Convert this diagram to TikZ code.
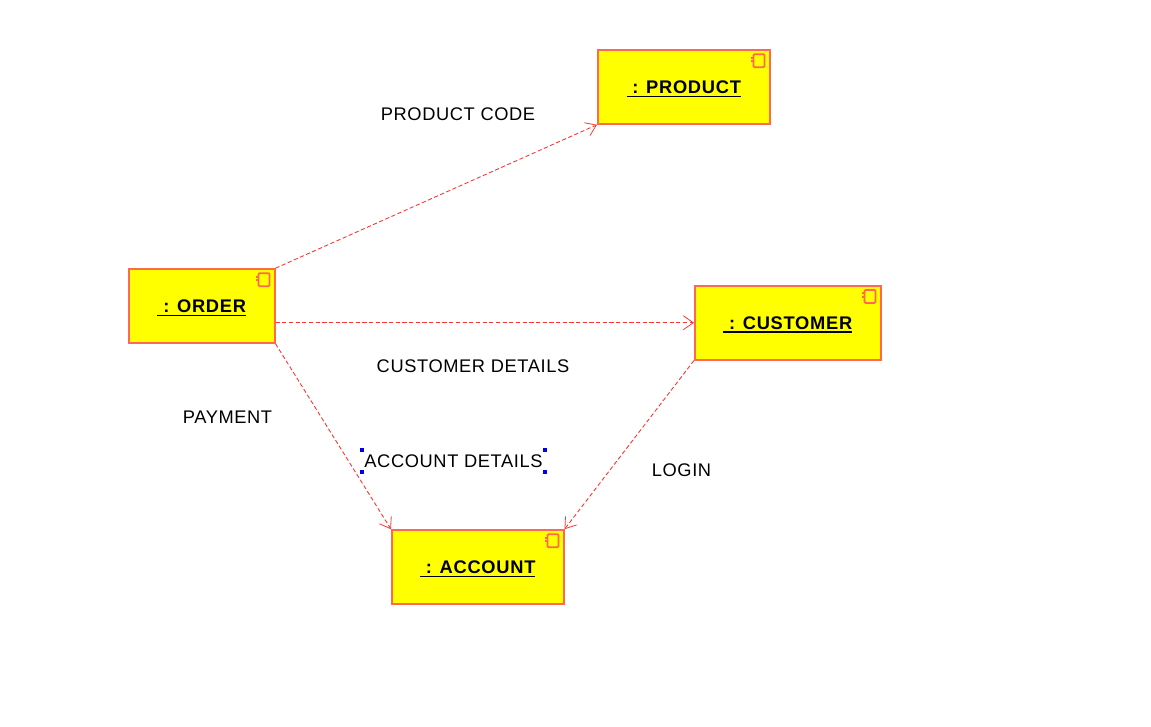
\documentclass[tikz,border=0pt]{standalone}
\usepackage{fontspec}
\setmainfont{Liberation Sans}
\usetikzlibrary{arrows.meta, positioning, calc}
\usepackage{xcolor}
\definecolor{boxline}{RGB}{255,105,80}
\definecolor{boxfill}{RGB}{255,255,0}
\definecolor{flowline}{RGB}{255,50,50}
\definecolor{handleblue}{RGB}{0,0,230}
\newcommand{\complabel}[1]{\setbox0\hbox{\ : #1}\rlap{\copy0}\rule[-0.07cm]{\wd0}{0.75pt}}

\begin{document}
\begin{tikzpicture}[
    component/.style={draw=boxline, line width=0.9pt, fill=boxfill, minimum height=1.48cm, text height=0.31cm, text depth=0.05cm, font=\fontsize{10.4}{12}\selectfont\bfseries\addfontfeatures{LetterSpace=4}, inner sep=0pt},
    flow/.style={-{Straight Barb[length=2mm, width=2.8mm, line width=0.45pt]}, dash pattern=on 2.4pt off 1.4pt, draw=flowline, line width=0.5pt},
    msg/.style={font=\fontsize{10.4}{12}\selectfont\addfontfeatures{LetterSpace=3.3}, inner sep=0pt},
    handle/.style={fill=handleblue, inner sep=0pt, minimum size=0.08cm},
    compicon/.pic={
        \draw[boxline, line width=1pt, rounded corners=0.6pt] (-0.34,-0.10) rectangle (-0.12,-0.36);
        \draw[boxline, line width=1.1pt] (-0.39,-0.17) -- (-0.34,-0.17) (-0.39,-0.24) -- (-0.34,-0.24);
    },
]
\useasboundingbox (0,0) rectangle (23.02,14.54);

% components
\node[component, minimum width=3.44cm] (product) at (13.675, 12.80) {\complabel{PRODUCT}};
\node[component, minimum width=2.92cm] (order) at (4.035, 8.42) {\complabel{ORDER}};
\node[component, minimum width=3.72cm] (customer) at (15.755, 8.085) {\complabel{CUSTOMER}};
\node[component, minimum width=3.44cm] (account) at (9.555, 3.20) {\complabel{ACCOUNT}};

\pic at (product.north east) {compicon};
\pic at (order.north east) {compicon};
\pic at (customer.north east) {compicon};
\pic at (account.north east) {compicon};

% messages
\draw[flow] (order.north east) -- (product.south west);
\draw[flow] (customer.west -| order.east) -- (customer.west);
\draw[flow] (order.south east) -- (account.north west);
\draw[flow] (customer.south west) -- (account.north east);

% labels
\node[msg] (productcode) at (9.16, 12.26) {PRODUCT CODE};
\node[msg] (customerdetails) at (9.46, 7.22) {CUSTOMER DETAILS};
\node[msg] (payment) at (4.55, 6.20) {PAYMENT};
\node[msg, minimum width=3.66cm, minimum height=0.42cm] (accountdetails) at (9.07, 5.32) {ACCOUNT DETAILS};
\node[msg] (login) at (13.63, 5.13) {LOGIN};

% selection handles
\node[handle] (h1) at (accountdetails.north west) {};
\node[handle] (h2) at (accountdetails.north east) {};
\node[handle] (h3) at (accountdetails.south west) {};
\node[handle] (h4) at (accountdetails.south east) {};

\end{tikzpicture}
\end{document}
